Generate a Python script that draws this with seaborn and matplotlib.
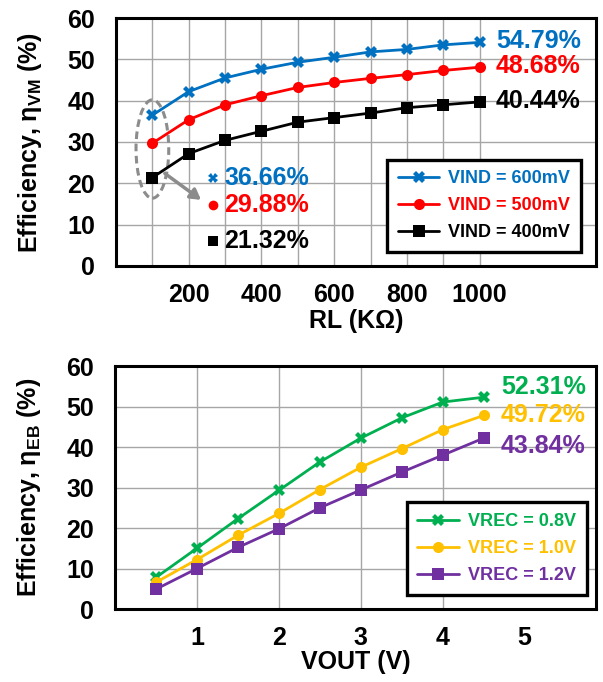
import matplotlib
matplotlib.use('Agg')
import matplotlib.pyplot as plt
from matplotlib.patches import Ellipse
import numpy as np
import pandas as pd
import seaborn as sns

# ---- data: top panel (efficiency vs load resistance) ----
rl_kohm = [100, 200, 300, 400, 500, 600, 700, 800, 900, 1000]
eff_600mv = [36.5, 42.2, 45.5, 47.6, 49.3, 50.5, 51.8, 52.4, 53.5, 54.1]
eff_500mv = [29.7, 35.4, 39.0, 41.2, 43.2, 44.4, 45.4, 46.3, 47.3, 48.1]
eff_400mv = [21.4, 27.2, 30.4, 32.6, 34.8, 35.9, 37.0, 38.3, 39.0, 39.7]
vind_labels = ['VIND = 600mV', 'VIND = 500mV', 'VIND = 400mV']
top_end_text = ['54.79%', '48.68%', '40.44%']
top_start_text = ['36.66%', '29.88%', '21.32%']

# ---- data: bottom panel (efficiency vs output voltage) ----
vout = [0.5, 1.0, 1.5, 2.0, 2.5, 3.0, 3.5, 4.0, 4.5]
eff_08v = [7.8, 15.0, 22.3, 29.3, 36.3, 42.2, 47.2, 51.1, 52.3]
eff_10v = [6.6, 12.2, 18.2, 23.6, 29.5, 35.0, 39.6, 44.3, 47.8]
eff_12v = [4.9, 10.0, 15.2, 19.8, 25.0, 29.4, 33.8, 38.0, 42.2]
vrec_labels = ['VREC = 0.8V', 'VREC = 1.0V', 'VREC = 1.2V']
bot_end_text = ['52.31%', '49.72%', '43.84%']

top_colors = ['#0070C0', '#FF0000', '#000000']
bot_colors = ['#00B050', '#FFC000', '#7030A0']
markers = ['X', 'o', 's']

sns.set_style('white')
plt.rcParams['font.family'] = ['Liberation Sans', 'DejaVu Sans']
plt.rcParams['font.weight'] = 'bold'
plt.rcParams['mathtext.fontset'] = 'custom'
plt.rcParams['mathtext.rm'] = 'Liberation Sans'
plt.rcParams['mathtext.bf'] = 'Liberation Sans:bold'
for key in ['text.color', 'axes.labelcolor', 'xtick.color', 'ytick.color',
            'axes.edgecolor']:
    plt.rcParams[key] = 'black'

FS = 18

top_df = pd.concat([
    pd.DataFrame({'RL': rl_kohm, 'eff': v, 'series': lab})
    for v, lab in zip([eff_600mv, eff_500mv, eff_400mv], vind_labels)
])
bot_df = pd.concat([
    pd.DataFrame({'VOUT': vout, 'eff': v, 'series': lab})
    for v, lab in zip([eff_08v, eff_10v, eff_12v], vrec_labels)
])

fig = plt.figure(figsize=(6.03, 6.82), dpi=100)
ax1 = fig.add_axes([0.1924, 0.6100, 0.796, 0.3636])
ax2 = fig.add_axes([0.1907, 0.1070, 0.7977, 0.3563])


def style_axes(ax):
    for sp in ax.spines.values():
        sp.set_linewidth(2.2)
        sp.set_color('black')
    ax.tick_params(axis='both', direction='out', length=8, width=2.2,
                   labelsize=FS, colors='black')
    ax.tick_params(axis='y', pad=7)
    ax.tick_params(axis='x', pad=4)
    ax.grid(True, color='#a6a6a6', linewidth=1.0)
    ax.set_axisbelow(True)
    ax.set_ylim(0, 60)
    ax.set_yticks(np.arange(0, 61, 10))


def add_legend(ax, colors, anchor):
    leg = ax.legend(loc='lower right', bbox_to_anchor=anchor, fontsize=13,
                    frameon=True, fancybox=False, handlelength=2.3,
                    borderpad=0.6, labelspacing=0.55, handletextpad=0.5,
                    borderaxespad=0)
    leg.get_frame().set_edgecolor('black')
    leg.get_frame().set_linewidth(2.4)
    leg.get_frame().set_alpha(1)
    for t, c in zip(leg.get_texts(), colors):
        t.set_color(c)
        t.set_fontweight('bold')
    return leg


# ---- top panel ----
sns.lineplot(data=top_df, x='RL', y='eff', hue='series', style='series',
             palette=top_colors, markers=markers, dashes=False,
             linewidth=2.0, markersize=8, markeredgewidth=0, ax=ax1)
style_axes(ax1)
ax1.set_xlim(0, 1320)
ax1.set_xticks(np.arange(0, 1001, 100))
ax1.set_xticklabels(['' if (t % 200 or t == 0) else str(t)
                     for t in range(0, 1001, 100)])
ax1.set_xlabel('RL (KΩ)', fontsize=FS, fontweight='bold')
ax1.set_ylabel(r'Efficiency, η$_{\mathbf{VM}}$ (%)', fontsize=FS, fontweight='bold')
ax1.xaxis.set_label_coords(0.5, -0.175)
ax1.yaxis.set_label_coords(-0.15, 0.5)
add_legend(ax1, top_colors, (0.969, 0.056))

for txt, vals, c in zip(top_end_text, [eff_600mv, eff_500mv, eff_400mv], top_colors):
    ax1.text(1045, vals[-1] + 0.3, txt, color=c, fontsize=FS, fontweight='bold',
             ha='left', va='center')

for txt, y, c, m in zip(top_start_text, [21.4, 14.7, 6.1], top_colors, markers):
    ax1.plot([268], [y], marker=m, color=c, markersize=7, markeredgewidth=0)
    ax1.text(297, y, txt, color=c, fontsize=FS, fontweight='bold',
             ha='left', va='center')

ax1.add_patch(Ellipse((100, 28.3), 90, 23.8, fill=False, edgecolor='#8c8c8c',
                      linewidth=2.2, linestyle=(0, (2.5, 1.5))))
ax1.annotate('', xy=(240, 15.6), xytext=(128, 22.8),
             arrowprops=dict(arrowstyle='-|>,head_length=0.6,head_width=0.35',
                             color='#8c8c8c', lw=2.5))

# ---- bottom panel ----
sns.lineplot(data=bot_df, x='VOUT', y='eff', hue='series', style='series',
             palette=bot_colors, markers=markers, dashes=False,
             linewidth=2.0, markersize=8, markeredgewidth=0, ax=ax2)
style_axes(ax2)
ax2.set_xlim(0, 5.87)
ax2.set_xticks(np.arange(0, 6, 1))
ax2.set_xticklabels(['', '1', '2', '3', '4', '5'])
ax2.xaxis.get_gridlines()[5].set_visible(False)
ax2.set_xlabel('VOUT (V)', fontsize=FS, fontweight='bold')
ax2.set_ylabel(r'Efficiency, η$_{\mathbf{EB}}$ (%)', fontsize=FS, fontweight='bold')
ax2.xaxis.set_label_coords(0.5, -0.17)
ax2.yaxis.set_label_coords(-0.15, 0.5)
add_legend(ax2, bot_colors, (0.981, 0.058))

for txt, y, c in zip(bot_end_text, [54.9, 47.9, 40.3], bot_colors):
    ax2.text(4.71, y, txt, color=c, fontsize=FS, fontweight='bold',
             ha='left', va='center')

fig.savefig('out.png', dpi=100)
plt.close(fig)
